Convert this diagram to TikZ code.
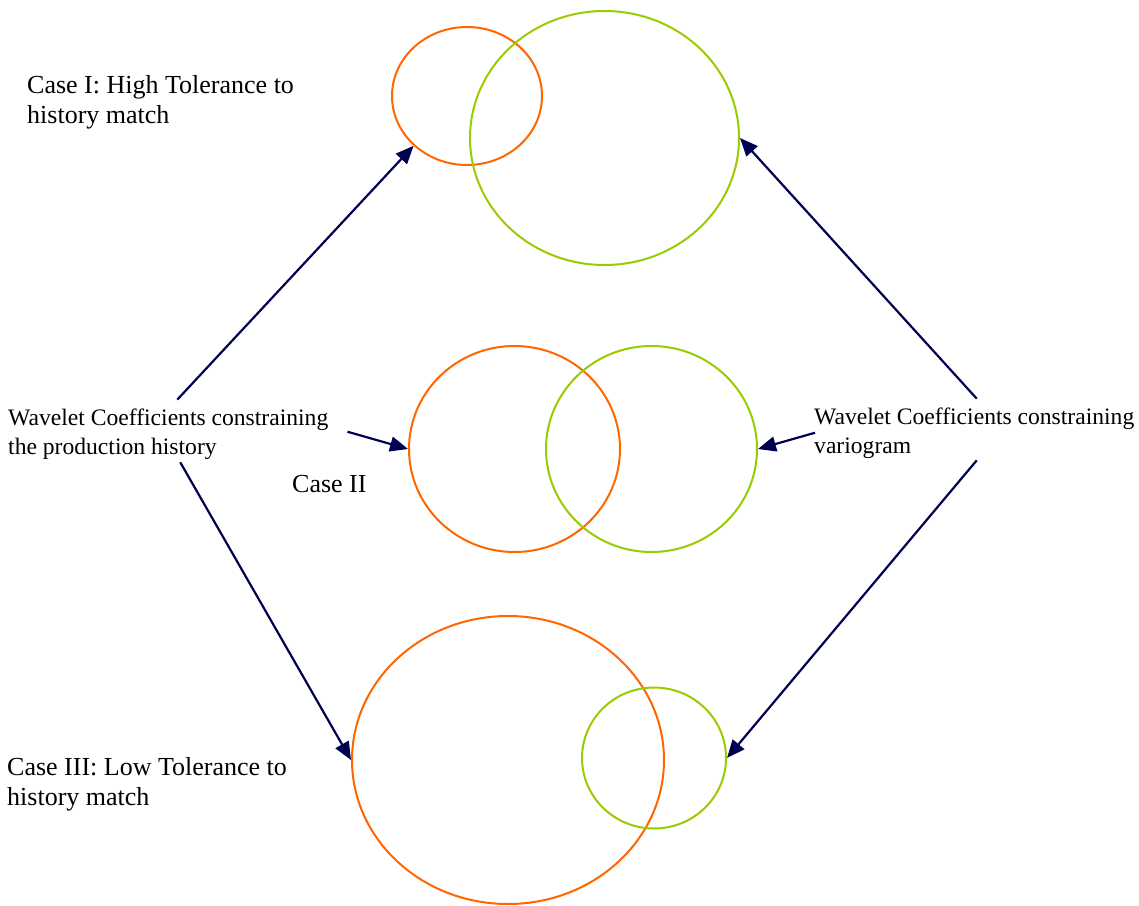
\documentclass[tikz,border=0pt]{standalone}
\usepackage{fontspec}
\setmainfont{Liberation Serif}
\usetikzlibrary{arrows.meta,shapes.geometric}
\definecolor{venorange}{RGB}{255,102,0}
\definecolor{vengreen}{RGB}{153,204,0}
\definecolor{arrownavy}{RGB}{0,0,80}

\begin{document}
\begin{tikzpicture}[x=1pt,y=-1pt,
    vennring/.style={draw,ellipse,line width=2pt,inner sep=0},
    navyarrow/.style={-{Triangle[length=18pt,width=15pt]},line width=2.2pt,draw=arrownavy},
    caselabel/.style={anchor=base west,align=left,inner sep=0,font=\fontsize{26}{30}\selectfont},
    wavelabel/.style={anchor=base west,align=left,inner sep=0,font=\fontsize{23.6}{29}\selectfont}]
        \useasboundingbox (0,0) rectangle (1139,905);
        % case I
        \node[vennring,draw=venorange,minimum width=150pt,minimum height=138pt] (c1o) at (467,96) {};
        \node[vennring,draw=vengreen,minimum width=269pt,minimum height=254pt] (c1g) at (604.5,138) {};
        % case II
        \node[vennring,draw=venorange,minimum width=211pt,minimum height=206pt] (c2o) at (514.5,449) {};
        \node[vennring,draw=vengreen,minimum width=211pt,minimum height=206pt] (c2g) at (651.5,449) {};
        % case III
        \node[vennring,draw=venorange,minimum width=312pt,minimum height=288pt] (c3o) at (508,760) {};
        \node[vennring,draw=vengreen,minimum width=144pt,minimum height=141pt] (c3g) at (654,758) {};
        % labels (anchored at the baseline of the last line)
        \node[caselabel] (case1) at (27,123) {Case I: High Tolerance to \\ history match};
        \node[caselabel] (case2) at (292,492) {Case II};
        \node[caselabel] (case3) at (7,805) {Case III: Low Tolerance to \\ history match};
        \node[wavelabel] (prod) at (8,454) {Wavelet Coefficients constraining \\ the production history};
        \node[wavelabel] (vario) at (814,453) {Wavelet Coefficients constraining \\ variogram};
        % arrows
        \draw[navyarrow] ([xshift=9pt,yshift=8.5pt]prod.north) -- (c1o.223);
        \draw[navyarrow] ([xshift=19pt,yshift=2pt]prod.east) -- (c2o.west);
        \draw[navyarrow] ([xshift=12pt,yshift=-3pt]prod.south) -- (c3o.west);
        \draw[navyarrow] ([xshift=2.5pt,yshift=8.5pt]vario.north) -- (c1g.east);
        \draw[navyarrow] ([xshift=2.5pt,yshift=-2pt]vario.south) -- (c3g.east);
        \draw[navyarrow] ([xshift=1pt]vario.west) -- (c2g.east);
\end{tikzpicture}
\end{document}
